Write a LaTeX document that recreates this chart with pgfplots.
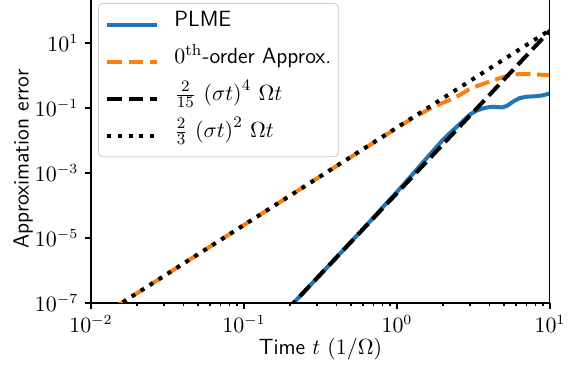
\documentclass[border=0pt]{standalone}
\usepackage{pgfplots}
\pgfplotsset{compat=1.18}
\usepackage{amsmath}
\definecolor{mplblue}{HTML}{1F77B4}
\definecolor{mplorange}{HTML}{FF7F0E}
\newcommand{\tickfont}{\fontsize{10.5}{12.6}\selectfont}
\newcommand{\lblfont}{\fontsize{11}{13.2}\selectfont}

\begin{document}
\begin{tikzpicture}
\begin{axis}[
  at={(0,0)}, anchor=south west,
  scale only axis, width=229.5pt, height=151.5pt,
  xmode=log, ymode=log,
  xmin=1e-2, xmax=10, ymin=1e-7, ymax=210.4,
  axis x line*=bottom, axis y line*=left,
  axis line style={line width=0.8pt, -},
  xtick={1e-2,1e-1,1,10},
  ytick={1e-7,1e-5,1e-3,1e-1,1e1},
  yminorticks=false,
  tick align=outside,
  major tick length=2.8pt, minor tick length=1.6pt,
  every tick/.style={black, line width=0.6pt},
  tick label style={font=\tickfont},
  xlabel={\sffamily Time $t$ $(1/\Omega)$},
  ylabel={\sffamily Approximation error},
  label style={font=\lblfont},
  xlabel style={at={(axis description cs:0.5,-0.1716)}, anchor=base},
  ylabel style={at={(axis description cs:-0.148,0.475)}, anchor=center},
  legend cell align=left,
  legend image code/.code={\draw[#1] (0pt,0pt) -- (25pt,0pt);},
  legend style={
    at={(axis description cs:0.0153,0.990)}, anchor=north west,
    draw=black!20, rounded corners=2pt, fill=white,
    font=\sffamily\lblfont,
    inner xsep=3.5pt, inner ysep=2.5pt,
    row sep=2.3pt,
    nodes={inner sep=0pt, text height=9pt, text depth=7.2pt},
    /tikz/every odd column/.append style={column sep=7.5pt},
  },
]
% PLME solution error
\addplot[mplblue, line width=2pt, line join=round] coordinates {
  (0.1862,5.37e-8) (0.2512,2.399e-7) (0.3981,2.399e-6) (0.6310,2.455e-5)
  (0.7943,8.128e-5) (1.0,2.630e-4) (1.2589,8.913e-4) (1.5849,3.090e-3)
  (1.9953,1.047e-2) (2.2909,1.950e-2) (2.6303,3.548e-2) (3.0,6.310e-2)
  (3.3113,8.318e-2) (3.6644,9.772e-2) (3.9811,0.1059) (4.2658,0.1096)
  (4.5709,0.1059) (4.8978,0.1047) (5.2481,0.1175) (5.7544,0.1585)
  (6.3096,0.1995) (6.9183,0.2213) (7.9433,0.2291) (8.9125,0.2427) (10,0.2818)
};
\addlegendentry{PLME}
% zeroth-order approximation error
\addplot[mplorange, line width=2pt, dash pattern=on 7.4pt off 3.2pt] coordinates {
  (0.014125,7.079e-8) (0.1,2.512e-5) (0.31623,7.943e-4) (1.0,0.02455)
  (1.2589,0.04786) (1.5849,0.08710) (1.9055,0.1318) (2.2387,0.1820)
  (2.5704,0.2512) (3.0200,0.3981) (3.5481,0.5248) (4.0738,0.6607)
  (4.7863,0.8511) (5.4954,1.0233) (6.3096,1.109) (7.2444,1.109)
  (8.5114,1.059) (10,1.035)
};
\addlegendentry{$0^{\mathrm{th}}$-order Approx.}
% fourth-order bound
\addplot[black, line width=2pt, dash pattern=on 7.4pt off 3.2pt] coordinates {
  (0.1862,5.37e-8) (0.5,7.50e-6) (1.0,2.399e-4) (3.0,5.83e-2) (10,23.99)
};
\addlegendentry{$\frac{2}{15}\,\left(\sigma t\right)^4\,\Omega t$}
% second-order bound
\addplot[black, line width=2pt, dash pattern=on 2pt off 3.3pt] coordinates {
  (0.014125,7.079e-8) (0.1,2.512e-5) (1.0,0.02512) (10,25.12)
};
\addlegendentry{$\frac{2}{3}\,\left(\sigma t\right)^2\,\Omega t$}
\draw[line width=0.8pt] (rel axis cs:1,0) -- (rel axis cs:1,1);
\end{axis}
\pgfresetboundingbox
\useasboundingbox (-45.5pt,-32.5pt) rectangle (241.5pt,151.5pt);
\end{tikzpicture}
\end{document}
